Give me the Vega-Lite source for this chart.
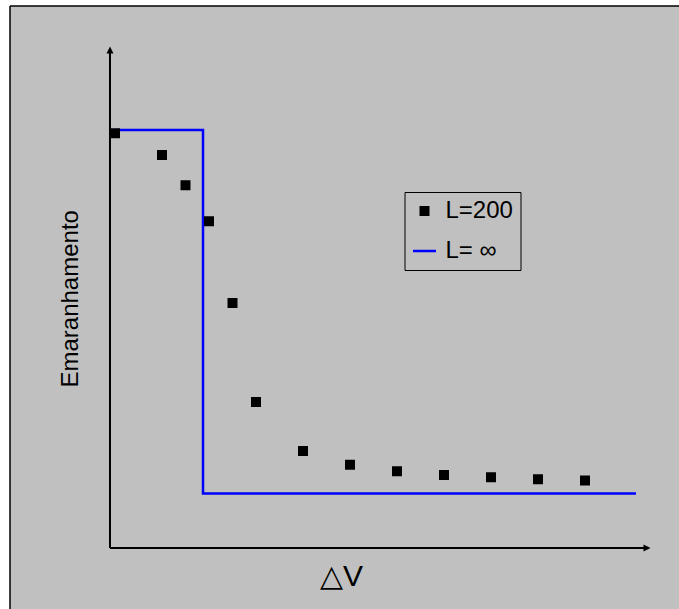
{
  "$schema": "https://vega.github.io/schema/vega-lite/v6.json",
  "width": 669,
  "height": 603,
  "autosize": {"type": "none"},
  "padding": {"left": 10, "top": 6, "right": 0, "bottom": 0},
  "background": "white",
  "config": {
    "view": {"fill": "#c0c0c0", "stroke": null},
    "font": "Liberation Sans",
    "axis": {"domain": false, "ticks": false, "labels": false, "grid": false, "titleFont": "Liberation Sans", "titleFontWeight": "normal", "titleColor": "black"}
  },
  "data": {"values": [{}]},
  "datasets": {
    "points": [
      {"x": 0, "y": 0.991, "series": "L=200"},
      {"x": 2, "y": 0.931, "series": "L=200"},
      {"x": 3, "y": 0.848, "series": "L=200"},
      {"x": 4, "y": 0.749, "series": "L=200"},
      {"x": 5, "y": 0.524, "series": "L=200"},
      {"x": 6, "y": 0.252, "series": "L=200"},
      {"x": 8, "y": 0.117, "series": "L=200"},
      {"x": 10, "y": 0.079, "series": "L=200"},
      {"x": 12, "y": 0.061, "series": "L=200"},
      {"x": 14, "y": 0.051, "series": "L=200"},
      {"x": 16, "y": 0.045, "series": "L=200"},
      {"x": 18, "y": 0.039, "series": "L=200"},
      {"x": 20, "y": 0.036, "series": "L=200"}
    ],
    "line": [
      {"x": 0, "y": 1, "o": 1, "series": "L= ∞"},
      {"x": 3.745, "y": 1, "o": 2, "series": "L= ∞"},
      {"x": 3.745, "y": 0, "o": 3, "series": "L= ∞"},
      {"x": 22.17, "y": 0, "o": 4, "series": "L= ∞"}
    ]
  },
  "layer": [
    {
      "mark": {"type": "rule", "color": "black", "strokeWidth": 1.5},
      "encoding": {
        "x": {"datum": -4.4681, "type": "quantitative", "scale": {"domain": [-4.4681, 24.0], "nice": false, "zero": false}},
        "y": {"datum": -0.3177, "type": "quantitative", "scale": {"domain": [-0.3177, 1.3411], "nice": false, "zero": false}},
        "y2": {"datum": 1.3411}
      }
    },
    {
      "mark": {"type": "rule", "color": "black", "strokeWidth": 1.5},
      "encoding": {
        "x": {"datum": -4.4681, "type": "quantitative", "scale": {"domain": [-4.4681, 24.0], "nice": false, "zero": false}},
        "x2": {"datum": 24.0},
        "y": {"datum": 1.3411, "type": "quantitative", "scale": {"domain": [-0.3177, 1.3411], "nice": false, "zero": false}}
      }
    },
    {
      "mark": {"type": "rule", "color": "black", "strokeWidth": 2},
      "encoding": {
        "x": {"datum": -0.213, "type": "quantitative", "scale": {"domain": [-4.4681, 24.0], "nice": false, "zero": false}},
        "y": {"datum": -0.15, "type": "quantitative", "scale": {"domain": [-0.3177, 1.3411], "nice": false, "zero": false}},
        "y2": {"datum": 1.2201}
      }
    },
    {
      "mark": {"type": "rule", "color": "black", "strokeWidth": 2},
      "encoding": {
        "x": {"datum": -0.213, "type": "quantitative", "scale": {"domain": [-4.4681, 24.0], "nice": false, "zero": false}},
        "x2": {"datum": 22.638},
        "y": {"datum": -0.15, "type": "quantitative", "scale": {"domain": [-0.3177, 1.3411], "nice": false, "zero": false}}
      }
    },
    {
      "mark": {"type": "point", "filled": true, "color": "black", "opacity": 1, "strokeWidth": 0, "shape": "M0,-1L1,1L-1,1Z", "size": 49},
      "encoding": {
        "x": {"datum": -0.213, "type": "quantitative", "scale": {"domain": [-4.4681, 24.0], "nice": false, "zero": false}},
        "y": {"datum": 1.2201, "type": "quantitative", "scale": {"domain": [-0.3177, 1.3411], "nice": false, "zero": false}}
      }
    },
    {
      "mark": {"type": "point", "filled": true, "color": "black", "opacity": 1, "strokeWidth": 0, "shape": "M1,0L-1,-1L-1,1Z", "size": 49},
      "encoding": {
        "x": {"datum": 22.638, "type": "quantitative", "scale": {"domain": [-4.4681, 24.0], "nice": false, "zero": false}},
        "y": {"datum": -0.15, "type": "quantitative", "scale": {"domain": [-0.3177, 1.3411], "nice": false, "zero": false}}
      }
    },
    {
      "data": {"name": "line"},
      "mark": {"type": "line", "color": "#0000ff", "strokeWidth": 2.5, "strokeJoin": "miter", "strokeCap": "butt"},
      "encoding": {
        "x": {"field": "x", "type": "quantitative", "title": "△V", "scale": {"domain": [-4.4681, 24.0], "nice": false, "zero": false}},
        "y": {"field": "y", "type": "quantitative", "title": "Emaranhamento", "scale": {"domain": [-0.3177, 1.3411], "nice": false, "zero": false}},
        "order": {"field": "o", "type": "quantitative"}
      }
    },
    {
      "data": {"name": "points"},
      "mark": {"type": "point", "filled": false, "fill": "black", "strokeWidth": 2.5, "opacity": 1},
      "encoding": {
        "x": {
          "field": "x", "type": "quantitative", "title": "△V",
          "scale": {"domain": [-4.4681, 24.0], "nice": false, "zero": false},
          "axis": {"titleFontSize": 30, "titleX": 331, "titleY": -24, "titleAlign": "center", "titleBaseline": "alphabetic"}
        },
        "y": {
          "field": "y", "type": "quantitative", "title": "Emaranhamento",
          "scale": {"domain": [-0.3177, 1.3411], "nice": false, "zero": false},
          "axis": {"titleFontSize": 24, "titleAngle": -90, "titleX": 67.7, "titleY": 292.3, "titleAlign": "center", "titleBaseline": "alphabetic"}
        },
        "color": {
          "field": "series", "type": "nominal",
          "scale": {"domain": ["L=200", "L= ∞"], "range": ["black", "#0000ff"]},
          "legend": {
            "title": null, "orient": "none", "legendX": 394.5, "legendY": 186,
            "strokeColor": "black", "fillColor": "#c0c0c0", "padding": 7, "rowPadding": 15,
            "labelFont": "Liberation Sans", "labelFontSize": 24, "labelColor": "black", "labelOffset": 8, "labelLimit": 300,
            "symbolStrokeWidth": 2.5, "symbolOpacity": 1
          }
        },
        "shape": {
          "field": "series", "type": "nominal",
          "scale": {"domain": ["L=200", "L= ∞"], "range": ["square", "stroke"]}
        },
        "size": {
          "field": "series", "type": "nominal",
          "scale": {"domain": ["L=200", "L= ∞"], "range": [56, 529]}
        }
      }
    }
  ]
}
